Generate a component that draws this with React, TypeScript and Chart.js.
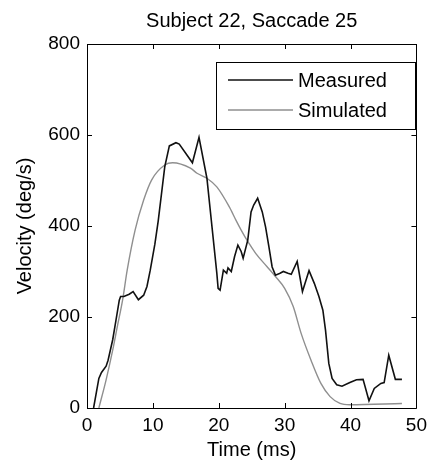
import React, { useEffect, useRef } from "react";
import { Chart, registerables } from "chart.js";

Chart.register(...registerables);

const TITLE = "Subject 22, Saccade 25";
const X_LABEL = "Time (ms)";
const Y_LABEL = "Velocity (deg/s)";

const measuredTime = [
  1.0, 1.8, 2.2, 2.9, 3.2, 3.9, 4.4, 4.9, 5.1, 5.6, 6.4, 7.0, 7.8, 8.6, 9.1, 9.6,
  10.3, 10.8, 11.3, 11.8, 12.5, 13.5, 14.0, 16.0, 17.0, 18.2, 19.7, 19.9, 20.2,
  20.7, 21.2, 21.4, 21.9, 22.4, 22.9, 23.4, 23.7, 24.4, 24.9, 25.3, 25.9, 26.6,
  27.1, 27.6, 28.1, 28.6, 29.3, 29.8, 30.5, 31.0, 31.9, 32.7, 33.7, 34.5, 35.2,
  35.8, 36.2, 36.7, 37.2, 37.9, 38.7, 39.9, 40.9, 41.9, 42.8, 43.6, 44.6, 45.1,
  45.8, 46.8, 47.8,
];
const measuredVelocity = [
  0, 65, 78, 92, 105, 150, 193, 237, 245, 245, 250, 256, 238, 248, 267, 303,
  360, 410, 470, 530, 576, 583, 580, 539, 595, 505, 297, 263, 259,
  303, 296, 308, 300, 333, 358, 344, 329, 369, 431, 446, 461, 431,
  398, 355, 310, 292, 296, 300, 296, 294, 322, 256, 302, 274, 245,
  215, 171, 98, 65, 51, 48, 56, 62, 63, 16, 43, 54, 56,
  116, 63, 63,
];

const simulatedTime = [
  1.8, 2.9, 3.9, 4.6, 5.4, 6.1, 7.3, 8.6, 9.8, 11.8, 13.0, 15.7, 16.7, 18.2,
  19.7, 21.6, 22.6, 23.4, 24.4, 25.6, 27.3, 28.6, 30.0, 31.3, 32.5, 34.0, 35.5,
  36.9, 38.4, 39.9, 47.8,
];
const simulatedVelocity = [
  0, 62, 127, 179, 237, 303, 391, 457, 501, 534, 539, 527, 516, 505,
  486, 442, 413, 391, 366, 340, 311, 289, 263, 223, 164, 105, 54,
  25, 10, 7, 10,
];

const SERIES_NAMES = ["Measured", "Simulated"];
const X_TICKS = [0, 10, 20, 30, 40, 50];
const Y_TICKS = [0, 200, 400, 600, 800];

const FONT = "'Liberation Sans', Arial, Helvetica, sans-serif";

const framePlugin = {
  id: "frame",
  afterDraw(chart: any) {
    const { ctx, chartArea } = chart;
    const { left, right, top, bottom } = chartArea;
    const xs = chart.scales.x;
    const ys = chart.scales.y;
    ctx.save();
    ctx.strokeStyle = "#000";
    ctx.lineWidth = 1;
    ctx.beginPath();
    ctx.rect(Math.round(left) + 0.5, Math.round(top) + 0.5, Math.round(right - left), Math.round(bottom - top));
    ctx.stroke();
    const tl = 5;
    ctx.beginPath();
    X_TICKS.forEach((t) => {
      const px = Math.round(xs.getPixelForValue(t)) + 0.5;
      ctx.moveTo(px, bottom);
      ctx.lineTo(px, bottom - tl);
      ctx.moveTo(px, top);
      ctx.lineTo(px, top + tl);
    });
    Y_TICKS.forEach((t) => {
      const py = Math.round(ys.getPixelForValue(t)) + 0.5;
      ctx.moveTo(left, py);
      ctx.lineTo(left + tl, py);
      ctx.moveTo(right, py);
      ctx.lineTo(right - tl, py);
    });
    ctx.stroke();

    // title
    ctx.fillStyle = "#000";
    ctx.font = `20px ${FONT}`;
    ctx.textAlign = "center";
    ctx.textBaseline = "middle";
    ctx.fillText(TITLE, (left + right) / 2, 21);

    // legend
    const bx = 216, by = 62, bw = 199, bh = 67;
    ctx.fillStyle = "#fff";
    ctx.fillRect(bx, by, bw, bh);
    ctx.strokeStyle = "#000";
    ctx.strokeRect(bx + 0.5, by + 0.5, bw, bh);
    const rows = [80, 110];
    chart.data.datasets.forEach((ds: any, i: number) => {
      const y = rows[i];
      ctx.strokeStyle = ds.borderColor;
      ctx.lineWidth = ds.borderWidth;
      ctx.beginPath();
      ctx.moveTo(228, y);
      ctx.lineTo(293, y);
      ctx.stroke();
      ctx.fillStyle = "#000";
      ctx.textAlign = "left";
      ctx.textBaseline = "middle";
      ctx.fillText(ds.label, 298, y + 1);
    });
    ctx.restore();
  },
};

export default function App() {
  const ref = useRef<HTMLCanvasElement>(null);
  useEffect(() => {
    if (!ref.current) return;
    const chart = new Chart(ref.current, {
      type: "line",
      data: {
        datasets: [
          {
            label: SERIES_NAMES[0],
            data: measuredTime.map((t, i) => ({ x: t, y: measuredVelocity[i] })),
            borderColor: "#111111",
            borderWidth: 1.6,
            pointRadius: 0,
            tension: 0,
            fill: false,
          },
          {
            label: SERIES_NAMES[1],
            data: simulatedTime.map((t, i) => ({ x: t, y: simulatedVelocity[i] })),
            borderColor: "#8f8f8f",
            borderWidth: 1.4,
            pointRadius: 0,
            cubicInterpolationMode: "monotone",
            fill: false,
          },
        ],
      },
      options: {
        animation: false,
        responsive: false,
        devicePixelRatio: 1,
        layout: { padding: { top: 44, right: 8, left: 0, bottom: 0 } },
        plugins: {
          legend: { display: false },
          title: { display: false },
          tooltip: { enabled: false },
        },
        scales: {
          x: {
            type: "linear",
            min: 0,
            max: 50,
            afterBuildTicks: (s: any) => {
              s.ticks = X_TICKS.map((v) => ({ value: v }));
            },
            afterFit: (s: any) => {
              s.height = 57;
            },
            grid: { display: false, drawTicks: false },
            border: { display: false },
            ticks: {
              color: "#000",
              padding: 6,
              maxRotation: 0,
              font: { family: FONT, size: 19 },
            },
            title: {
              display: true,
              text: X_LABEL,
              color: "#000",
              font: { family: FONT, size: 20 },
              padding: { top: 0, bottom: 3 },
            },
          },
          y: {
            type: "linear",
            min: 0,
            max: 800,
            afterBuildTicks: (s: any) => {
              s.ticks = Y_TICKS.map((v) => ({ value: v }));
            },
            afterFit: (s: any) => {
              s.width = 87;
            },
            grid: { display: false, drawTicks: false },
            border: { display: false },
            ticks: {
              color: "#000",
              padding: 7,
              font: { family: FONT, size: 19 },
            },
            title: {
              display: true,
              text: Y_LABEL,
              color: "#000",
              font: { family: FONT, size: 20 },
              padding: { top: 13, bottom: 0 },
            },
          },
        },
      },
      plugins: [framePlugin],
    } as any);
    return () => chart.destroy();
  }, []);
  return (
    <div style={{ position: "fixed", left: 0, top: 0, width: 433, height: 465, background: "#fff" }}>
      <canvas ref={ref} width={433} height={465} style={{ width: 433, height: 465, display: "block" }} />
    </div>
  );
}
